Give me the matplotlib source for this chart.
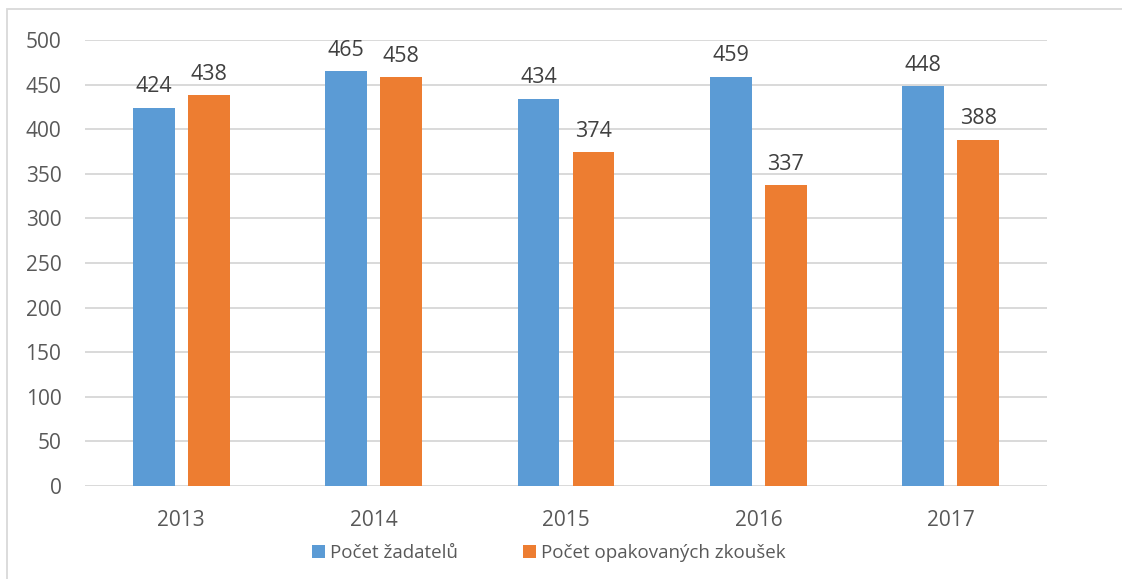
import matplotlib.pyplot as plt
import numpy as np
from matplotlib.patches import Rectangle

plt.rcParams["font.family"] = ["Open Sans", "DejaVu Sans"]

years = ["2013", "2014", "2015", "2016", "2017"]
zadatelu = [424, 465, 434, 459, 448]
opakovanych = [438, 458, 374, 337, 388]

BLUE = "#5b9bd5"
ORANGE = "#ed7d31"
TEXT = "#595959"
GRID = "#d9d9d9"

W, H = 1122, 579
fig = plt.figure(figsize=(W / 100, H / 100), dpi=100)
ax = fig.add_axes([85 / W, 1 - 486 / H, 962 / W, 446 / H])

x = np.arange(len(years))
bw = 0.218
off = 0.143
b1 = ax.bar(x - off, zadatelu, bw, color=BLUE, label="Počet žadatelů", zorder=2)
b2 = ax.bar(x + off, opakovanych, bw, color=ORANGE, label="Počet opakovaných zkoušek", zorder=2)

# value labels above bars
for bars in (b1, b2):
    for rect in bars:
        h = rect.get_height()
        ax.annotate(f"{h:.0f}", (rect.get_x() + rect.get_width() / 2, h),
                    xytext=(0, 7.5), textcoords="offset points",
                    ha="center", va="bottom", fontsize=15.5, color="#404040")

ax.set_xlim(-0.5, len(years) - 0.5)
ax.set_ylim(0, 500)
ax.set_yticks(range(0, 501, 50))
ax.set_xticks(x)
ax.set_xticklabels(years)
ax.yaxis.grid(True, color=GRID, linewidth=1.4, zorder=0)
ax.set_axisbelow(True)
for s in ax.spines.values():
    s.set_visible(False)
ax.tick_params(length=0, labelsize=15, colors=TEXT)
ax.tick_params(axis="y", pad=17)
ax.tick_params(axis="x", pad=17)

# outer chart border
fig.patches.append(Rectangle((7 / W, -0.05), 1.2, 1 - 9 / H + 0.05,
                             transform=fig.transFigure, fill=False,
                             edgecolor=GRID, linewidth=1.3))

leg = fig.legend(handles=[b1, b2], loc="center", bbox_to_anchor=(549 / W, 1 - 553 / H),
                 ncol=2, frameon=False, fontsize=13.5, handlelength=0.68,
                 handleheight=0.68, handletextpad=0.27, columnspacing=3.5,
                 borderpad=0, borderaxespad=0)
for t in leg.get_texts():
    t.set_color(TEXT)

fig.savefig("out.png", dpi=100)
